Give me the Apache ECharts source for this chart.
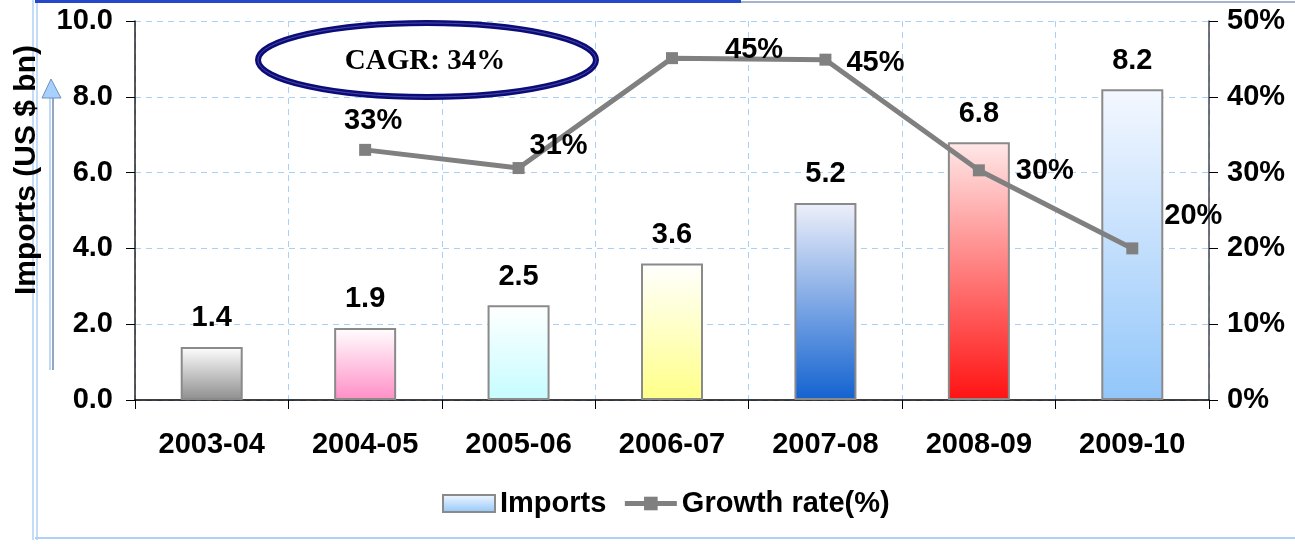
<!DOCTYPE html>
<html>
<head>
<meta charset="utf-8">
<script src="https://cdn.jsdelivr.net/npm/echarts@6/dist/echarts.min.js"></script>
<style>
  html, body { margin: 0; padding: 0; background: #fff; }
  #chart { width: 1295px; height: 544px; }
</style>
</head>
<body>
<div id="chart"></div>
<script>
// data
const years = ['2003-04', '2004-05', '2005-06', '2006-07', '2007-08', '2008-09', '2009-10'];
const imports = [1.4, 1.9, 2.5, 3.6, 5.2, 6.8, 8.2]; // US $ bn
const growth = [null, 33, 30.6, 45.1, 44.9, 30.3, 20]; // %
const leftTicks = { min: 0, max: 10, interval: 2 };
const rightTicks = { min: 0, max: 50, interval: 10 };

// bar colours (top / bottom of each gradient)
const barTop = ['#ffffff', '#ffffff', '#ffffff', '#ffffff', '#eef0fa', '#ffe8e8', '#f4f8ff'];
const barBottom = ['#8e8e8e', '#ff8ec6', '#c6fcff', '#ffff88', '#1262d0', '#ff1212', '#92c6fa'];
// label offsets for growth points
const growthLabelPos = ['right', 'top', 'right', 'right', 'right', 'right', 'right'];
const growthLabelOffset = [[0, 0], [8, -3], [0, -22], [42, -8], [10, 3], [26, 1], [21, -32]];

function grad(top, bottom) {
  return new echarts.graphic.LinearGradient(0, 0, 0, 1, [
    {offset: 0, color: top},
    {offset: 1, color: bottom}
  ]);
}

const font = 'Liberation Sans, Arial, sans-serif';
const fs = 29;
const chart = echarts.init(document.getElementById('chart'));

chart.setOption({
  backgroundColor: '#fff',
  animation: false,
  grid: { left: 135, right: 86, top: 21, bottom: 144 },
  legend: {
    bottom: 18,
    left: 432,
    backgroundColor: '#fff',
    padding: [8, 10],
    itemWidth: 52,
    itemHeight: 17,
    itemGap: 16,
    textStyle: { fontFamily: font, fontWeight: 'bold', fontSize: fs, color: '#000' },
    data: [
      { name: 'Imports', icon: 'rect' },
      { name: 'Growth rate(%)' }
    ],
    lineStyle: { width: 5 }
  },
  xAxis: {
    type: 'category',
    data: years,
    axisLine: { lineStyle: { color: '#000', width: 1.5 } },
    axisTick: { show: true, length: 9, lineStyle: { color: '#000' } },
    axisLabel: { margin: 30, fontFamily: font, fontWeight: 'bold', fontSize: fs, color: '#000' },
    splitLine: { show: true, lineStyle: { color: '#a8d0f8', type: [6, 5], width: 1 } }
  },
  yAxis: [
    {
      type: 'value',
      min: leftTicks.min, max: leftTicks.max, interval: leftTicks.interval,
      axisLine: { show: true, lineStyle: { color: '#222', width: 1.5 } },
      axisTick: { show: true, length: 9, lineStyle: { color: '#000' } },
      axisLabel: { margin: 22, formatter: v => v.toFixed(1), fontFamily: font, fontWeight: 'bold', fontSize: fs, color: '#000' },
      splitLine: { show: true, lineStyle: { color: '#a8d0f8', type: [6, 5], width: 1 } }
    },
    {
      type: 'value',
      min: rightTicks.min, max: rightTicks.max, interval: rightTicks.interval,
      position: 'right',
      axisLine: { show: true, lineStyle: { color: '#445', width: 1.5 } },
      axisTick: { show: true, length: 9, lineStyle: { color: '#000' } },
      axisLabel: { margin: 18, formatter: '{value}%', fontFamily: font, fontWeight: 'bold', fontSize: fs, color: '#000' },
      splitLine: { show: false }
    }
  ],
  series: [
    {
      name: 'Imports',
      type: 'bar',
      barWidth: 62,
      itemStyle: { color: grad('#f4f8ff', '#92c6fa'), borderColor: '#8a8a8a', borderWidth: 2 },
      label: {
        show: true, position: 'top', distance: 14,
        fontFamily: font, fontWeight: 'bold', fontSize: fs, color: '#000',
        formatter: p => p.value.toFixed(1)
      },
      data: imports.map((v, i) => ({
        value: v,
        itemStyle: { color: grad(barTop[i], barBottom[i]) }
      }))
    },
    {
      name: 'Growth rate(%)',
      type: 'line',
      yAxisIndex: 1,
      symbol: 'rect',
      symbolSize: 12,
      lineStyle: { color: '#808080', width: 5 },
      itemStyle: { color: '#808080' },
      label: {
        show: true, fontFamily: font, fontWeight: 'bold', fontSize: fs, color: '#000',
        formatter: p => Math.round(p.value) + '%'
      },
      data: growth.map((v, i) => ({
        value: v,
        label: { position: growthLabelPos[i], offset: growthLabelOffset[i] }
      }))
    }
  ],
  graphic: [
    // frame lines
    { type: 'line', shape: { x1: 33, y1: 0, x2: 33, y2: 540 }, style: { stroke: '#b0d0f4', lineWidth: 1.5 }, z: 10 },
    { type: 'line', shape: { x1: 37, y1: 0, x2: 37, y2: 540 }, style: { stroke: '#b0d0f4', lineWidth: 1.5 }, z: 10 },
    { type: 'line', shape: { x1: 35, y1: 1.5, x2: 741, y2: 1.5 }, style: { stroke: '#2448c8', lineWidth: 3 }, z: 10 },
    { type: 'line', shape: { x1: 741, y1: 2, x2: 1295, y2: 2 }, style: { stroke: '#8898b8', lineWidth: 1.5 }, z: 10 },
    { type: 'line', shape: { x1: 35, y1: 538, x2: 1295, y2: 538 }, style: { stroke: '#b0d0f4', lineWidth: 2 }, z: 10 },
    // axis title + arrow
    {
      type: 'text', x: 27, y: 170, rotation: Math.PI / 2,
      style: { text: 'Imports (US $ bn)', font: 'bold 30px ' + font, fill: '#000', align: 'center', verticalAlign: 'middle' },
      z: 10
    },
    { type: 'line', shape: { x1: 50, y1: 95, x2: 50, y2: 370 }, style: { stroke: '#a8ccf4', lineWidth: 1.5 }, z: 10 },
    { type: 'line', shape: { x1: 53, y1: 95, x2: 53, y2: 370 }, style: { stroke: '#7088a8', lineWidth: 1.5 }, z: 10 },
    { type: 'polygon', shape: { points: [[51, 79], [42, 98], [61, 98]] }, style: { fill: '#a8d0ff', stroke: '#7090b8', lineWidth: 1 }, z: 10 },
    // CAGR bubble
    { type: 'ellipse', shape: { cx: 427, cy: 60, rx: 169, ry: 37 }, style: { fill: '#fff', stroke: '#0c0c78', lineWidth: 6 }, z: 10 },
    { type: 'ellipse', shape: { cx: 427, cy: 60, rx: 169, ry: 37 }, style: { fill: null, stroke: '#4848a8', lineWidth: 1 }, z: 11 },
    {
      type: 'text', x: 425, y: 62,
      style: { text: 'CAGR: 34%', font: 'bold 29px "Liberation Serif", "Times New Roman", serif', fill: '#000', align: 'center', verticalAlign: 'middle' },
      z: 12
    }
  ]
});
</script>
</body>
</html>
